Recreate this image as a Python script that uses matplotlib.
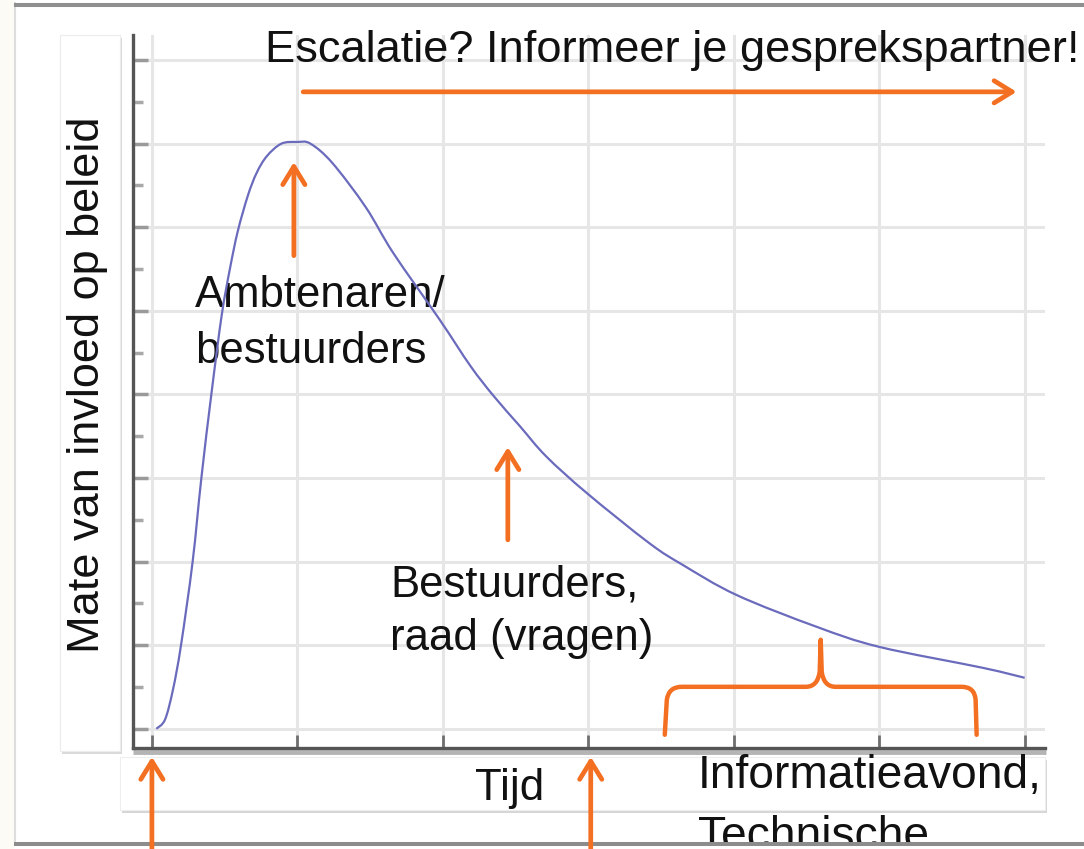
import numpy as np
import matplotlib
matplotlib.use("Agg")
import matplotlib.pyplot as plt
from matplotlib.patches import Rectangle, PathPatch
from matplotlib.path import Path

plt.rcParams['font.family'] = ['Liberation Sans', 'DejaVu Sans']

# curve (time vs influence, grid units)
tijd = [0.03, 0.09, 0.145, 0.20, 0.28, 0.34, 0.41, 0.48, 0.536, 0.59, 0.66, 0.72,
        0.79, 0.89, 1.0, 1.09, 1.24, 1.47, 1.66, 1.98, 2.19, 2.35, 2.53, 2.71,
        2.99, 3.42, 3.65, 4.02, 4.57, 5.0, 5.71, 6.0]
invloed = [0.0, 0.11, 0.47, 1.0, 2.0, 3.0, 4.02, 4.95, 5.5, 5.95, 6.38, 6.65,
           6.85, 7.0, 7.02, 7.0, 6.77, 6.24, 5.69, 4.89, 4.34, 3.98, 3.62, 3.26,
           2.82, 2.22, 1.96, 1.60, 1.22, 0.98, 0.73, 0.61]

# orange arrows: (x start, y start, x end, y end)
pijlen = [
    (1.04, 7.62, 5.945, 7.62),     # escalatie
    (0.976, 5.66, 0.976, 6.78),    # ambtenaren
    (2.447, 2.26, 2.447, 3.37),    # bestuurders
    (0.0, -1.45, 0.0, -0.335),     # under the axis, left
    (3.017, -1.45, 3.017, -0.335), # under the axis, middle
]

# curly brace over the tail
accolade_x = [3.526, 3.540, 3.553, 3.643, 4.495, 4.577, 4.591, 4.598, 4.605,
              4.619, 4.701, 5.567, 5.656, 5.663, 5.670]
accolade_y = [-0.072, 0.347, 0.502, 0.502, 0.502, 0.502, 0.682, 1.065, 0.682,
              0.502, 0.502, 0.502, 0.502, 0.347, -0.072]

titel = 'Escalatie? Informeer je gesprekspartner!'
ylabel = 'Mate van invloed op beleid'
xlabel = 'Tijd'

ORANJE = '#f36f21'
W, H = 1084, 849


def smooth_path(xs, ys):
    # Catmull-Rom through the read points, drawn as cubic bezier segments
    pts = np.column_stack([xs, ys])
    p = np.vstack([pts[0], pts, pts[-1]])
    verts = [pts[0]]
    codes = [Path.MOVETO]
    for i in range(1, len(p) - 2):
        c1 = p[i] + (p[i + 1] - p[i - 1]) / 6
        c2 = p[i + 1] - (p[i + 2] - p[i]) / 6
        verts += [c1, c2, p[i + 1]]
        codes += [Path.CURVE4] * 3
    return Path(verts, codes)


fig = plt.figure(figsize=(W / 100, H / 100), dpi=100)

# background layer in pixel units (slide look)
bg = fig.add_axes([0, 0, 1, 1], zorder=0)
bg.set_xlim(0, W)
bg.set_ylim(H, 0)
bg.axis('off')
bg.add_patch(Rectangle((0, 0), 14, H, color='#fcfbf6', lw=0))
bg.plot([15, 15], [3, 846], color='#dedede', lw=1.5)
bg.plot([14, W], [5, 5], color='#8f8f8f', lw=2.9, solid_capstyle='butt')
# box behind the y label
bg.add_patch(Rectangle((62, 38), 60, 716, color='#dadada', lw=0))
bg.add_patch(Rectangle((60, 35), 60, 716, facecolor='white', edgecolor='#ececec', lw=0.8))
# box behind the x label
bg.add_patch(Rectangle((122, 760), 925, 53, color='#d6d6d6', lw=0))
bg.add_patch(Rectangle((120, 757), 925, 53, facecolor='white', edgecolor='#eeeeee', lw=0.8))
bg.plot([133, 1046], [752, 752], color='#b4b4b4', lw=3.5, solid_capstyle='butt')

# the chart itself
ax = fig.add_axes([133 / W, 1 - 748 / H, (1045 - 133) / W, (748 - 35) / H], zorder=2)
ax.patch.set_alpha(0)
ax.set_xlim(-0.13, 6.14)
ax.set_ylim(-0.23, 8.30)
ax.set_xticks(range(7))
ax.set_yticks(range(9))
ax.set_yticks(np.arange(0.5, 8, 1), minor=True)
ax.tick_params(axis='x', direction='in', length=9.5, width=2, color='#707070',
               labelbottom=False)
ax.tick_params(axis='y', which='major', direction='in', length=11, width=2.5,
               color='#9a9a9a', labelleft=False)
ax.tick_params(axis='y', which='minor', direction='in', length=7.5, width=2.5,
               color='#a8a8a8')
ax.grid(True, which='major', color='#e6e6e6', lw=2.2)
ax.set_axisbelow(True)
for s in ['top', 'right']:
    ax.spines[s].set_visible(False)
for s in ['left', 'bottom']:
    ax.spines[s].set_color('#555555')
    ax.spines[s].set_linewidth(2.4)

# texts (pixel positions, drawn above the grid)
px = bg.transData
tekst = dict(transform=px, va='baseline', color='#111111', clip_on=False, zorder=3)
ax.text(88, 385, ylabel, rotation=90, ha='center', fontsize=32.5,
        **{**tekst, 'va': 'center'})
ax.text(265, 62, titel, fontsize=32.6, **tekst)
ax.text(195, 307, 'Ambtenaren/', fontsize=31.5, **tekst)
ax.text(195, 363, 'bestuurders', fontsize=31.5, **tekst)
ax.text(390, 597, 'Bestuurders,', fontsize=31.5, **tekst)
ax.text(390, 650, 'raad (vragen)', fontsize=31.5, **tekst)
ax.text(475, 800, xlabel, fontsize=31.5, **tekst)
ax.text(698, 788, 'Informatieavond,', fontsize=33.2, **tekst)
ax.text(698, 849, 'Technische', fontsize=33.2, **tekst)

# bottom edge of the slide cuts off the last line
ax.add_patch(Rectangle((14, 845), W, 4, transform=px, color='white', lw=0,
                       clip_on=False, zorder=4))
ax.plot([14, W], [843.5, 843.5], transform=px, color='#8c8c8c', lw=2.9,
        solid_capstyle='butt', clip_on=False, zorder=4)

ax.add_patch(PathPatch(smooth_path(tijd, invloed), facecolor='none',
                       edgecolor='#6b6bbd', lw=1.6, zorder=3.5))

for x0, y0, x1, y1 in pijlen:
    ax.annotate('', xy=(x1, y1), xytext=(x0, y0), annotation_clip=False,
                arrowprops=dict(arrowstyle='->,head_length=0.65,head_width=0.4',
                                color=ORANJE, lw=3.4, mutation_scale=20,
                                shrinkA=0, shrinkB=0, capstyle='round',
                                joinstyle='round'), zorder=5)

codes = [Path.MOVETO, Path.LINETO, Path.CURVE3, Path.CURVE3, Path.LINETO,
         Path.CURVE3, Path.CURVE3, Path.LINETO, Path.LINETO, Path.CURVE3,
         Path.CURVE3, Path.LINETO, Path.CURVE3, Path.CURVE3, Path.LINETO]
accolade = Path(np.column_stack([accolade_x, accolade_y]), codes)
ax.add_patch(PathPatch(accolade, facecolor='none', edgecolor=ORANJE, lw=3.2,
                       capstyle='round', joinstyle='round', clip_on=False, zorder=5))

plt.savefig('out.png', dpi=100)
